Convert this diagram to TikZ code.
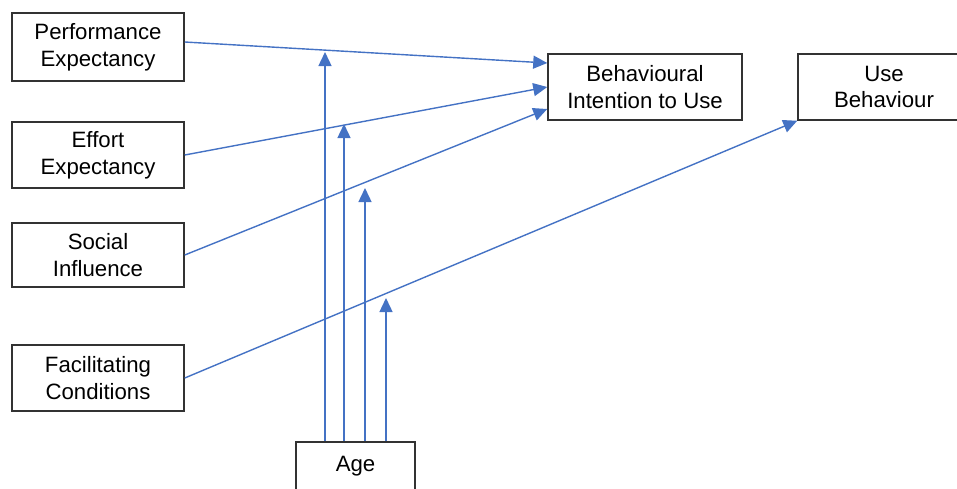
\documentclass[tikz,border=0pt]{standalone}
\usepackage{fontspec}
\setmainfont{Liberation Sans}
\usetikzlibrary{arrows.meta,calc}
\definecolor{linkblue}{RGB}{68,114,196}
\definecolor{boxgray}{RGB}{50,50,50}

\begin{document}
\begin{tikzpicture}[x=0.5pt, y=-0.5pt,
  box/.style={draw=boxgray, line width=0.75pt, align=center, inner sep=0pt,
    font=\fontsize{11.1}{13.3}\selectfont},
  link/.style={draw=linkblue, line width=0.7pt,
    -{Triangle[length=7pt,width=6.5pt]}}]

\useasboundingbox (0,0) rectangle (957,488);
\clip (0,0) rectangle (957,488);

\node[box, minimum width=86pt, minimum height=34pt] (pe) at (98,47) {Performance\\Expectancy};
\node[box, minimum width=86pt, minimum height=33pt] (ee) at (98,155) {Effort\\Expectancy};
\node[box, minimum width=86pt, minimum height=32pt] (si) at (98,255) {Social\\Influence};
\node[box, minimum width=86pt, minimum height=33pt] (fc) at (98,378) {Facilitating\\Conditions};

\node[box, minimum width=97pt, minimum height=33pt] (bi) at (645,87) {Behavioural\\Intention to Use};
\node[box, minimum width=86pt, minimum height=33pt] (ub) at (884,87) {Use\\Behaviour};

% age box runs off the bottom edge
\node[box, minimum width=59.5pt, anchor=north, text height=15pt, text depth=16pt] (age) at (355.5,441) {Age};

\coordinate (m1) at (325,52);
\coordinate (m2) at (344,124);
\coordinate (m3) at (365,188);
\coordinate (m4) at (386,298);

\draw[link] ([yshift=2.5pt]pe.east) -- ([yshift=12pt]bi.west);
\draw[link] (ee.east) -- (bi.west);
\draw[link] (si.east) -- ([yshift=-11pt]bi.west);
\draw[link] (fc.east) -- (ub.south west);

\draw[link] (age.north -| m1) -- (m1);
\draw[link] (age.north -| m2) -- (m2);
\draw[link] (age.north -| m3) -- (m3);
\draw[link] (age.north -| m4) -- (m4);

\end{tikzpicture}
\end{document}
